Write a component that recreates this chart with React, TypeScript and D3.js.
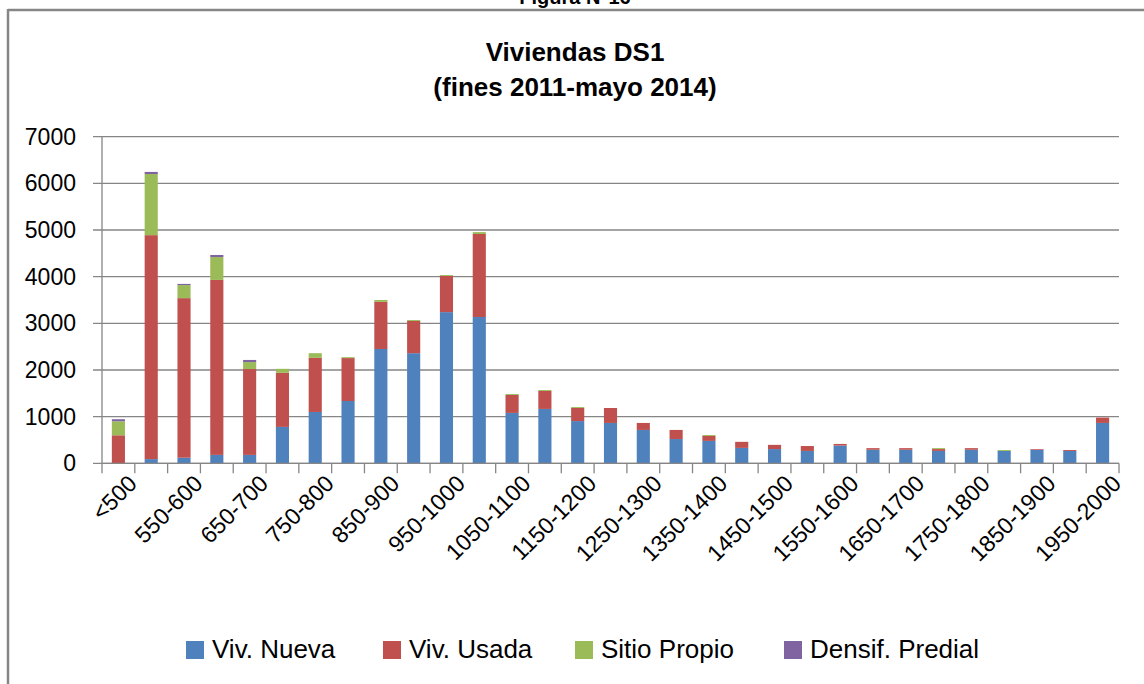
import React, { useEffect } from "react";
import * as d3 from "d3";

const categories = [
  "<500", "500-550", "550-600", "600-650", "650-700", "700-750", "750-800", "800-850",
  "850-900", "900-950", "950-1000", "1000-1050", "1050-1100", "1100-1150", "1150-1200",
  "1200-1250", "1250-1300", "1300-1350", "1350-1400", "1400-1450", "1450-1500",
  "1500-1550", "1550-1600", "1600-1650", "1650-1700", "1700-1750", "1750-1800",
  "1800-1850", "1850-1900", "1900-1950", "1950-2000",
];

const vivNueva = [0, 90, 120, 180, 180, 780, 1100, 1335, 2450, 2360, 3240, 3135, 1080, 1165, 905, 865, 715, 520, 480, 330, 305, 265, 380, 290, 290, 265, 290, 265, 290, 265, 865];
const vivUsada = [600, 4800, 3420, 3750, 1840, 1160, 1160, 920, 1010, 690, 775, 1780, 385, 385, 280, 320, 150, 195, 105, 130, 90, 105, 35, 35, 35, 40, 35, 0, 15, 20, 115];
const sitioPropio = [300, 1310, 280, 490, 150, 85, 100, 20, 40, 20, 20, 40, 20, 20, 20, 0, 0, 0, 20, 0, 0, 0, 0, 0, 0, 20, 0, 20, 0, 0, 0];
const densifPredial = [45, 45, 25, 45, 45, 0, 0, 0, 0, 0, 0, 0, 0, 0, 0, 0, 0, 0, 0, 0, 0, 0, 0, 0, 0, 0, 0, 0, 0, 0, 0];

const seriesNames = ["Viv. Nueva", "Viv. Usada", "Sitio Propio", "Densif. Predial"];
const seriesColors = ["#4F81BD", "#C0504D", "#9BBB59", "#8064A2"];
const yTicks = [0, 1000, 2000, 3000, 4000, 5000, 6000, 7000];

const titleLines = ["Viviendas DS1", "(fines 2011-mayo 2014)"];
const figureLabel = "Figura N°16";

const W = 1144;
const H = 684;
const FONT = "'Liberation Sans', Arial, sans-serif";
const GRID = "#868686";

export default function App() {
  useEffect(() => {
    document.body.style.margin = "0";
  }, []);

  const left = 102;
  const right = 1119;
  const top = 136.7;
  const bottom = 463.3;

  const x = d3.scaleBand<string>().domain(categories).range([left, right]).paddingInner(0.6).paddingOuter(0.3);
  const y = d3.scaleLinear().domain([0, 7000]).range([bottom, top]);
  const step = x.step();

  const table = categories.map((c, i) => ({
    cat: c,
    [seriesNames[0]]: vivNueva[i],
    [seriesNames[1]]: vivUsada[i],
    [seriesNames[2]]: sitioPropio[i],
    [seriesNames[3]]: densifPredial[i],
  }));
  const stacked = d3.stack<any>().keys(seriesNames)(table);

  const boundaries = categories.map((c) => (x(c) as number) - step * 0.3);
  boundaries.push(right);

  const legendX = [186, 383, 575, 784];

  return (
    <svg width={W} height={H} style={{ position: "absolute", left: 0, top: 0, background: "#fff" }} fontFamily={FONT}>
      <rect x={0} y={0} width={W} height={H} fill="#fff" />
      {/* caption above the frame, cut by the top edge as in the source */}
      <text x={575} y={4} textAnchor="middle" fontSize={20} fontWeight="bold" fill="#000">{figureLabel}</text>
      {/* frame */}
      <line x1={8} x2={W} y1={10} y2={10} stroke={GRID} strokeWidth={2.5} />
      <line x1={8} x2={8} y1={9} y2={H} stroke={GRID} strokeWidth={2.5} />

      {/* title */}
      <text x={575} y={61} textAnchor="middle" fontSize={26} fontWeight="bold" fill="#000">{titleLines[0]}</text>
      <text x={575} y={96} textAnchor="middle" fontSize={26} fontWeight="bold" fill="#000">{titleLines[1]}</text>

      {/* gridlines and y ticks */}
      {yTicks.map((t) => (
        <g key={t}>
          <line x1={93} x2={right} y1={y(t)} y2={y(t)} stroke={GRID} strokeWidth={1.3} />
          <text x={76} y={y(t) + 8} textAnchor="end" fontSize={23} fill="#000">{t}</text>
        </g>
      ))}
      <line x1={left} x2={left} y1={top} y2={bottom} stroke={GRID} strokeWidth={1.3} />

      {/* bars */}
      {stacked.map((s, si) => (
        <g key={s.key} fill={seriesColors[si]}>
          {s.map((d, i) => {
            const h = y(d[0]) - y(d[1]);
            if (h <= 0) return null;
            return <rect key={i} x={x(categories[i])} y={y(d[1])} width={x.bandwidth()} height={h} />;
          })}
        </g>
      ))}

      {/* x axis */}
      <line x1={left} x2={right} y1={bottom} y2={bottom} stroke={GRID} strokeWidth={1.3} />
      {boundaries.map((b, i) => (
        <line key={i} x1={b} x2={b} y1={bottom} y2={bottom + 10} stroke={GRID} strokeWidth={1.3} />
      ))}
      {categories.map((c, i) => {
        if (i % 2 !== 0) return null;
        const cx = (x(c) as number) + x.bandwidth() / 2;
        const ax = cx + 20;
        const ay = 485;
        return (
          <text key={c} x={ax} y={ay} textAnchor="end" fontSize={23} fill="#000" transform={`rotate(-45 ${ax} ${ay})`}>
            {c}
          </text>
        );
      })}

      {/* legend */}
      {seriesNames.map((n, i) => (
        <g key={n}>
          <rect x={legendX[i]} y={641} width={18} height={18} fill={seriesColors[i]} />
          <text x={legendX[i] + 26} y={658} fontSize={26} fill="#000">{n}</text>
        </g>
      ))}
    </svg>
  );
}
